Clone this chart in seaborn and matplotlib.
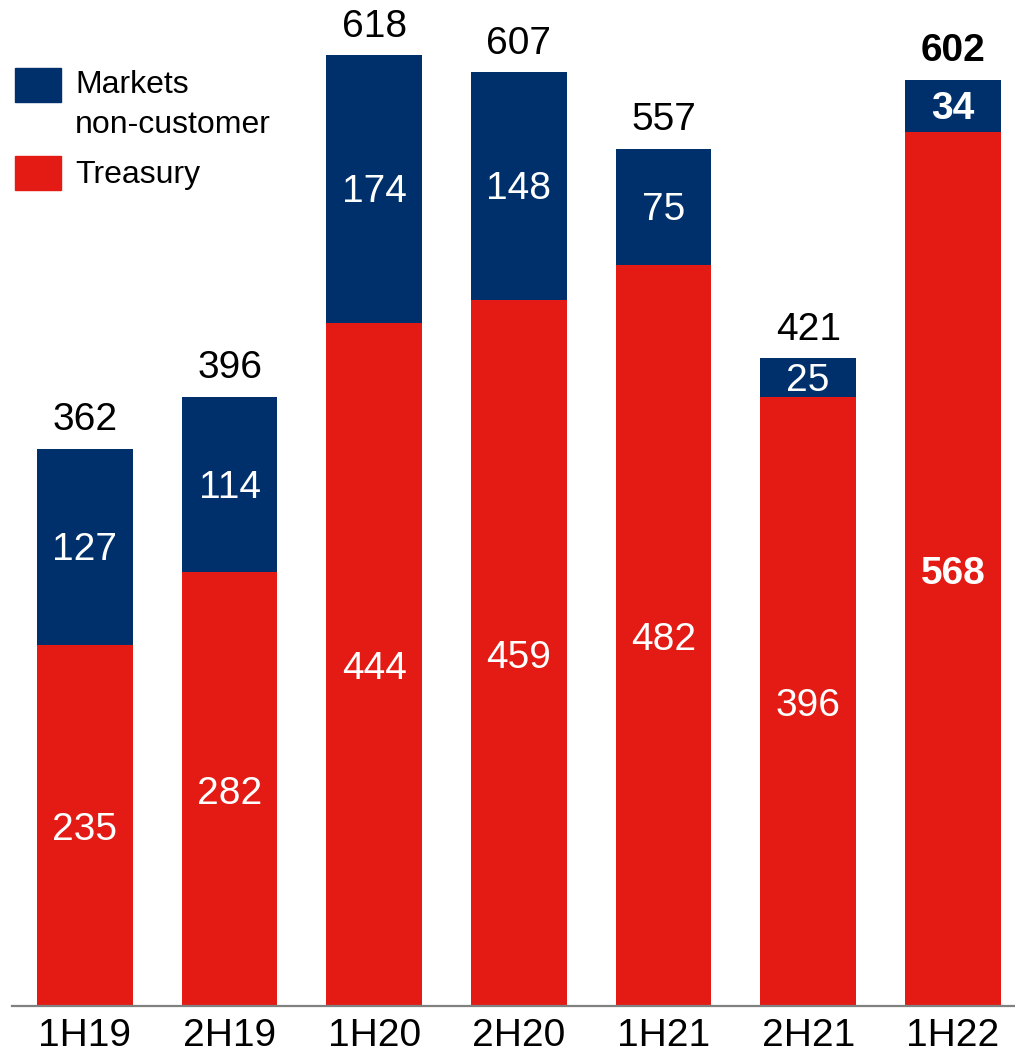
import matplotlib
matplotlib.use("Agg")
import matplotlib.pyplot as plt
import seaborn as sns
import pandas as pd

periods = ["1H19", "2H19", "1H20", "2H20", "1H21", "2H21", "1H22"]
treasury = [235, 282, 444, 459, 482, 396, 568]
markets_non_customer = [127, 114, 174, 148, 75, 25, 34]

NAVY = "#00306B"
RED = "#E31B14"

sns.set_theme(style="white")
plt.rcParams["font.family"] = ["Liberation Sans", "DejaVu Sans"]
plt.rcParams["text.color"] = "black"

totals = [t + m for t, m in zip(treasury, markets_non_customer)]
df = pd.DataFrame({"period": periods, "treasury": treasury,
                   "markets": markets_non_customer, "total": totals})

fig = plt.figure(figsize=(10.15, 10.56), dpi=100)
ax = fig.add_axes([12 / 1015, 50 / 1056, 1 - 12 / 1015, 1 - 50 / 1056])

# Stacked bars: full total in navy, treasury overlaid in red
sns.barplot(data=df, x="period", y="total", color=NAVY, saturation=1,
            width=0.66, ax=ax, linewidth=0)
sns.barplot(data=df, x="period", y="treasury", color=RED, saturation=1,
            width=0.66, ax=ax, linewidth=0)

ax.set_ylim(0, 654)
ax.set_xlim(-0.504, 6.43)
ax.set_xlabel("")
ax.set_ylabel("")
ax.set_yticks([])
for s in ["top", "right", "left"]:
    ax.spines[s].set_visible(False)
ax.spines["bottom"].set_color("#808080")
ax.spines["bottom"].set_linewidth(1.6)
ax.tick_params(axis="x", length=0, labelsize=28, pad=9, colors="black")

fs = 28
for i, (t, m, tot) in enumerate(zip(treasury, markets_non_customer, totals)):
    bold = "bold" if i == len(periods) - 1 else "normal"
    ax.text(i, t / 2 - 3, f"{t}", ha="center", va="center", color="white",
            fontsize=fs, fontweight=bold)
    ax.text(i, t + m / 2 - 2, f"{m}", ha="center", va="center", color="white",
            fontsize=fs, fontweight=bold)
    ax.text(i, tot + 7, f"{tot}", ha="center", va="bottom", color="black",
            fontsize=fs, fontweight=bold)

# Legend
fig.patches.append(plt.Rectangle((15 / 1015, 1 - 102 / 1056), 46 / 1015, 34 / 1056,
                                 transform=fig.transFigure, color=NAVY))
fig.patches.append(plt.Rectangle((15 / 1015, 1 - 190 / 1056), 46 / 1015, 34 / 1056,
                                 transform=fig.transFigure, color=RED))
fig.text(75 / 1015, 1 - 105 / 1056, "Markets\nnon-customer", fontsize=23,
         va="center", ha="left", linespacing=1.45, color="black")
fig.text(75 / 1015, 1 - 175 / 1056, "Treasury", fontsize=23,
         va="center", ha="left", color="black")

fig.savefig("out.png", dpi=100)
